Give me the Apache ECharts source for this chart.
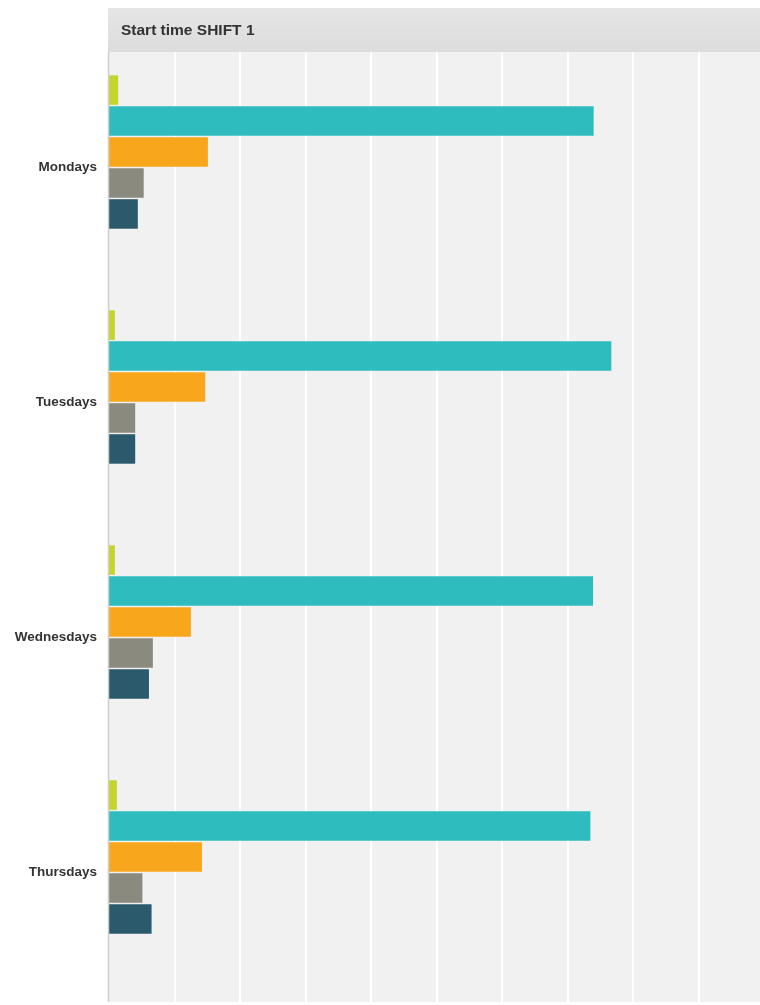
<!DOCTYPE html>
<html>
<head>
<meta charset="utf-8">
<title>Start time SHIFT 1</title>
<script src="https://cdn.jsdelivr.net/npm/echarts@6/dist/echarts.min.js"></script>
<style>
  html, body { margin: 0; padding: 0; background: #ffffff; }
  #chart { width: 760px; height: 1005px; }
</style>
</head>
<body>
<div id="chart"></div>
<script>
// Answer days (top to bottom)
const days = ['Mondays', 'Tuesdays', 'Wednesdays', 'Thursdays'];

// Percentage of respondents per answer choice, one array per choice
const choiceA = [1.4, 0.9, 0.9, 1.2];
const choiceB = [74.0, 76.7, 73.9, 73.5];
const choiceC = [15.1, 14.7, 12.5, 14.2];
const choiceD = [5.3, 4.0, 6.7, 5.1];
const choiceE = [4.4, 4.0, 6.1, 6.5];
const choiceF = [0, 0, 0, 0];

// Visible part of the percentage axis
const axisMax = 99.4;
const axisStep = 10;

const seriesData = [choiceA, choiceB, choiceC, choiceD, choiceE, choiceF];
const colors = ['#c4d52c', '#2ebcbf', '#f8a71c', '#8b8a7f', '#2a5a6c', '#9a9a9a'];

const chart = echarts.init(document.getElementById('chart'), null, { renderer: 'canvas' });

const xCommon = {
  type: 'value',
  min: 0,
  max: axisMax,
  interval: axisStep,
  axisLine: { show: false },
  axisTick: { show: false },
  axisLabel: { show: false },
  splitLine: { show: true, showMinLine: false, showMaxLine: false, lineStyle: { color: '#ffffff', width: 2 } }
};

chart.setOption({
  animation: false,
  title: {
    text: 'Start time SHIFT 1',
    left: 116,
    top: 18,
    textStyle: { fontFamily: 'Liberation Sans, Arial, sans-serif', fontSize: 15.5, fontWeight: 'bold', color: '#333333' }
  },
  graphic: [
    {
      type: 'rect',
      z: 1,
      shape: { x: 108, y: 8, width: 652, height: 44 },
      style: {
        fill: new echarts.graphic.LinearGradient(0, 0, 0, 1, [
          { offset: 0, color: '#e6e6e6' },
          { offset: 1, color: '#dcdcdc' }
        ])
      }
    },
    {
      type: 'line',
      z: 10,
      shape: { x1: 108.5, y1: 52, x2: 108.5, y2: 1002 },
      style: { stroke: '#cfcfcf', lineWidth: 1.5 }
    }
  ],
  grid: [
    { left: 109, top: 50, right: 0, height: 940, backgroundColor: '#f1f1f1', show: true, borderWidth: 0 },
    { left: 109, top: 989, right: 0, height: 13, backgroundColor: '#f1f1f1', show: true, borderWidth: 0 }
  ],
  xAxis: [
    Object.assign({ gridIndex: 0 }, xCommon),
    Object.assign({ gridIndex: 1 }, xCommon)
  ],
  yAxis: [
    {
      gridIndex: 0,
      type: 'category',
      data: days,
      inverse: true,
      axisLine: { show: false },
      axisTick: { show: false },
      axisLabel: {
        margin: 12,
        fontFamily: 'Liberation Sans, Arial, sans-serif',
        fontSize: 13.5,
        fontWeight: 'bold',
        color: '#333333'
      }
    },
    {
      gridIndex: 1,
      type: 'category',
      data: [''],
      axisLine: { show: false },
      axisTick: { show: false },
      axisLabel: { show: false }
    }
  ],
  series: seriesData.map((vals, i) => ({
    type: 'bar',
    xAxisIndex: 0,
    yAxisIndex: 0,
    data: vals,
    barWidth: 29.5,
    barGap: '5%',
    itemStyle: { color: colors[i] }
  }))
});
</script>
</body>
</html>
